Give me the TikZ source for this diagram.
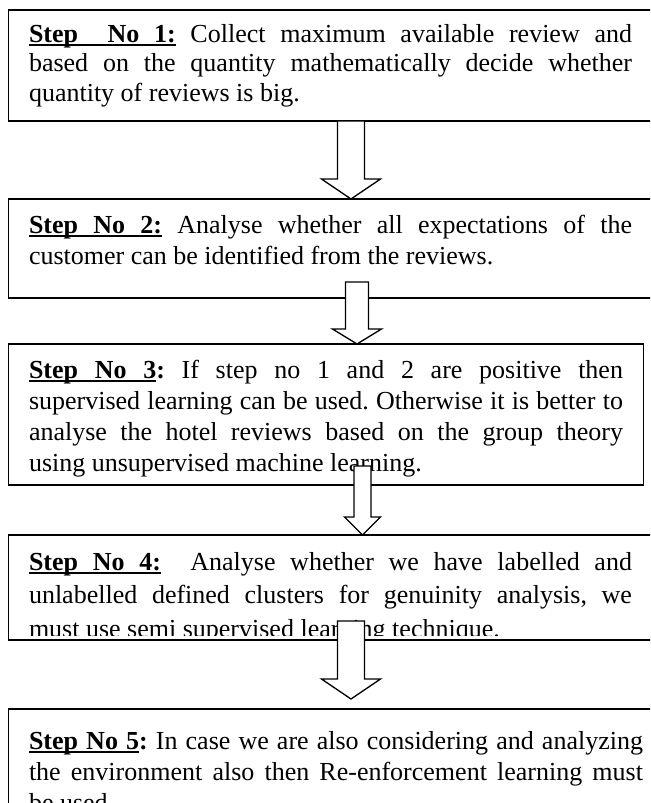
\documentclass[tikz,border=0pt]{standalone}
\usepackage{fontspec}
\setmainfont{Liberation Serif}
\frenchspacing
\newdimen\pxu \pxu=0.75pt
% underlined word and underlined stretchable space
\newcommand\ul[1]{\sbox0{#1}\rlap{\rule[-0.17em]{\wd0}{0.1em}}\box0}
\newcommand\us{\leaders\hrule height -0.07em depth 0.17em\hskip\fontdimen2\font plus\fontdimen3\font minus\fontdimen4\font\relax}
\newcommand\jl[1]{\hbox to\hsize{#1}}
\newcommand\lastln[1]{\hbox{#1}}
\newcommand\blockarrow[6]{% cx, shaft half width, head half width, shaft top, head top, tip
  \draw[arr] (#1-#2,#4) -- (#1-#2,#5) -- (#1-#3,#5) -- (#1,#6) -- (#1+#3,#5) -- (#1+#2,#5) -- (#1+#2,#4) -- cycle;}
\tikzset{
  box/.style={draw, line width=1.1pt, inner sep=0pt, outer sep=0pt, anchor=north west},
  txt/.style={inner sep=0pt, outer sep=0pt, anchor=base west, font=\fontsize{19.5}{23}\selectfont},
  arr/.style={draw, fill=white, line width=1pt, line join=miter}
}
\begin{document}
\begin{tikzpicture}[x=0.75pt, y=-0.75pt]
\useasboundingbox (0,0) rectangle (650,803);
\clip (0,0) rectangle (650,803);
% boxes
\node[box, minimum width=651.5\pxu, minimum height=111\pxu] (b1) at (8.5,10) {};
\node[box, minimum width=651.5\pxu, minimum height=99\pxu]  (b2) at (8.5,199) {};
\node[box, minimum width=635\pxu,   minimum height=141\pxu] (b3) at (8.5,344) {};
\node[box, minimum width=651.5\pxu, minimum height=105\pxu] (b4) at (8.5,535) {};
\node[box, minimum width=651.5\pxu, minimum height=130\pxu] (b5) at (8.5,709) {};
% texts
\begin{scope}
\clip (b1.north west) rectangle (b1.south east);
\node[txt] (t1) at (29,42) {\vtop{\hsize=603\pxu \baselineskip=29.5\pxu \lineskiplimit=-100pt
  \jl{\textbf{\ul{Step}\us\us\ul{No}\us\ul{1:}} Collect maximum available review and}
  \jl{based on the quantity mathematically decide whether}
  \lastln{quantity of reviews is big.}}};
\end{scope}
\begin{scope}
\clip (b2.north west) rectangle (b2.south east);
\node[txt] (t2) at (29,233) {\vtop{\hsize=603\pxu \baselineskip=31\pxu \lineskiplimit=-100pt
  \jl{\textbf{\ul{Step}\us\ul{No}\us\ul{2:}} Analyse whether all expectations of the}
  \lastln{customer can be identified from the reviews.}}};
\end{scope}
\begin{scope}
\clip (b3.north west) rectangle (b3.south east);
\node[txt] (t3) at (29,378) {\vtop{\hsize=594\pxu \baselineskip=31\pxu \lineskiplimit=-100pt
  \jl{\textbf{\ul{Step}\us\ul{No}\us\ul{3}:} If step no 1 and 2 are positive then}
  \jl{supervised learning can be used. Otherwise it is better to}
  \jl{analyse the hotel reviews based on the group theory}
  \lastln{using unsupervised machine learning.}}};
\end{scope}
\begin{scope}
\clip (b4.north west) rectangle ([yshift=3.5pt]b4.south east);
\node[txt] (t4) at (29,570) {\vtop{\hsize=603\pxu \baselineskip=33.5\pxu \lineskiplimit=-100pt
  \jl{\textbf{\ul{Step}\us\ul{No}\us\ul{4:}}\ \ Analyse whether we have labelled and}
  \jl{unlabelled defined clusters for genuinity analysis, we}
  \lastln{must use semi supervised learning technique.}}};
\end{scope}
\begin{scope}
\clip (b5.north west) rectangle (b5.south east);
\node[txt] (t5) at (29,749) {\vtop{\hsize=614\pxu \baselineskip=31\pxu \lineskiplimit=-100pt
  \jl{\textbf{\ul{Step}\us\ul{No}\us\ul{5}:} In case we are also considering and analyzing}
  \jl{the environment also then Re-enforcement learning must}
  \lastln{be used.}}};
\end{scope}
% block arrows
\blockarrow{351}{13.5}{29.5}{121}{179}{199}
\blockarrow{357}{11.5}{24.5}{282}{329}{344}
\blockarrow{362.5}{8.5}{18}{466}{517}{535}
\blockarrow{351}{13.5}{29.5}{621}{679}{699}
\end{tikzpicture}
\end{document}
